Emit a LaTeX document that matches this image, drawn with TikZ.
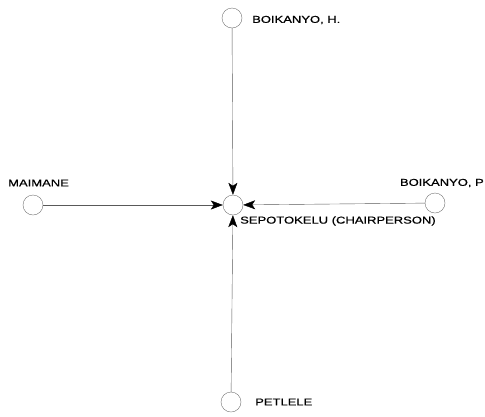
\documentclass[tikz,border=0pt]{standalone}
\usepackage{fontspec}
\newfontfamily\lblfont[FakeStretch=1.3,FakeBold=0.6]{Liberation Sans}
\usetikzlibrary{positioning,arrows.meta}

\begin{document}
\begin{tikzpicture}[
  x=1pt, y=-1pt,
  >={Stealth[length=12pt,width=9pt,inset=3pt,color=black]},
  actor/.style={draw=black!55, thin, circle, minimum size=20pt, inner sep=0pt},
  who/.style={font=\lblfont\fontsize{10}{12}\selectfont, inner sep=0pt, text=black},
  tie/.style={->, thin, draw=black!65}
]
\useasboundingbox (0,0) rectangle (485,416);

% actors
\node[actor] (sepot)  at (233,205) {};
\node[actor] (hboik)  at (232,18)  {};
\node[actor] (maim)   at (33,205)  {};
\node[actor] (pboik)  at (435,203) {};
\node[actor] (petl)   at (231,402) {};

% names
\node[who, anchor=west] (hboiklbl) at (252,20)  {BOIKANYO, H.};
\node[who, anchor=west] (maimlbl)  at (8,183)   {MAIMANE};
\node[who, anchor=east] (pboiklbl) at (484,183) {BOIKANYO, P};
\node[who, anchor=west] (sepotlbl) at (240,221) {SEPOTOKELU (CHAIRPERSON)};
\node[who, anchor=west] (petllbl)  at (255,402) {PETLELE};

% ties to the chair
\draw[tie] (hboik) -- (sepot);
\draw[tie] (maim) -- (sepot);
\draw[tie] (pboik) -- (sepot);
\draw[tie] (petl) -- (sepot);

\end{tikzpicture}
\end{document}
